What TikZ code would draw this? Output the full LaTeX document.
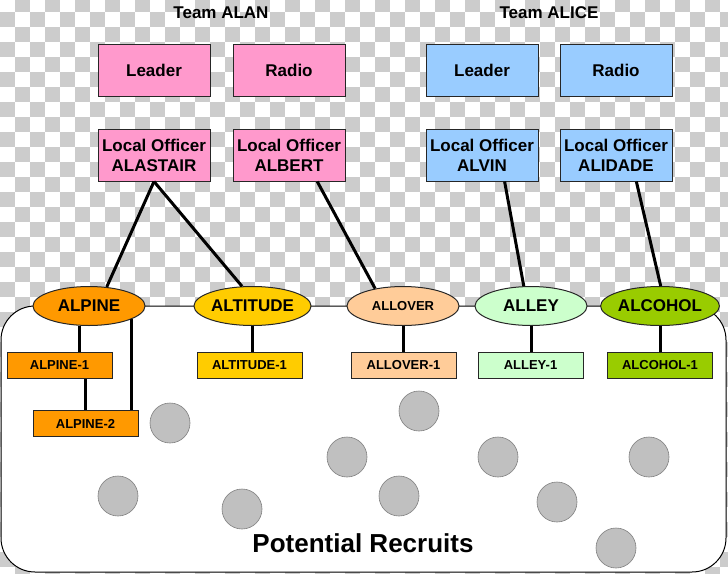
\documentclass[tikz,border=0pt]{standalone}
\usepackage{fontspec}
\setmainfont{Liberation Sans}
\usepackage{tikz}
\usetikzlibrary{calc, math, shapes.geometric}

\definecolor{checkgray}{RGB}{204,204,204}
\definecolor{recruitgray}{RGB}{192,192,192}
\definecolor{alanpink}{RGB}{255,153,204}
\definecolor{aliceblue}{RGB}{153,204,255}
\definecolor{alpineorange}{RGB}{255,153,0}
\definecolor{altitudegold}{RGB}{255,204,0}
\definecolor{alloverpeach}{RGB}{255,204,153}
\definecolor{alleymint}{RGB}{204,255,204}
\definecolor{alcoholgreen}{RGB}{153,204,0}

\begin{document}
\begin{tikzpicture}[x=1pt, y=-1pt, line width=1pt,
    topbox/.style={draw=black!85, minimum width=112pt, minimum height=52pt, inner sep=0pt, align=center, font=\fontsize{17}{20}\selectfont\bfseries},
    tribe/.style={ellipse, draw=black!85, minimum width=112pt, minimum height=39pt, inner sep=0pt, font=\fontsize{17}{20}\selectfont\bfseries},
    cell/.style={draw=black!85, minimum width=105pt, minimum height=26pt, inner sep=0pt, font=\fontsize{13}{15}\selectfont\bfseries},
    recruit/.style={circle, draw=gray, fill=recruitgray, line width=0.6pt, minimum size=40pt, inner sep=0pt},
    link/.style={line width=3pt},
]
    \tikzmath{%
        \rowtop=70;
        \rowoff=155;
        \rowcell=306;
        \rowsub=365;
    }
    \useasboundingbox (0, 0) rectangle (728, 573);
    % checker background
    \begin{scope}
        \clip (0, 0) rectangle (728, 573);
        \foreach \j in {0, ..., 38} {
            \pgfmathtruncatemacro{\sh}{mod(\j, 2)}
            \foreach \i in {1, 3, ..., 49}
                \fill [checkgray] ({(\i-\sh)*15}, {\j*15-3}) rectangle ++(15, 15);
        }
    \end{scope}
    % pool of recruits
    \draw [fill=white, rounded corners=34pt] (1, \rowcell) rectangle (726, 572);
    \foreach \x/\y [count=\k] in {170/423, 419/411, 347/457, 498/457, 649/457, 118/496, 242/509, 399/496, 557/502, 616/548}
        \node [recruit] (r\k) at (\x, \y) {};
    \node [font=\fontsize{26}{30}\selectfont\bfseries] (pool) at (363, 543) {Potential Recruits};

    % team headers
    \node [font=\fontsize{17}{20}\selectfont\bfseries] (alan) at (221, 13) {Team ALAN};
    \node [font=\fontsize{17}{20}\selectfont\bfseries] (alice) at (549, 13) {Team ALICE};
    \node [topbox, fill=alanpink] (leaderA) at (154, \rowtop) {Leader};
    \node [topbox, fill=alanpink] (radioA) at (289, \rowtop) {Radio};
    \node [topbox, fill=aliceblue] (leaderB) at (482, \rowtop) {Leader};
    \node [topbox, fill=aliceblue] (radioB) at (616, \rowtop) {Radio};
    % local officers
    \node [topbox, fill=alanpink] (alastair) at (154, \rowoff) {Local Officer\\ALASTAIR};
    \node [topbox, fill=alanpink] (albert) at (289, \rowoff) {Local Officer\\ALBERT};
    \node [topbox, fill=aliceblue] (alvin) at (482, \rowoff) {Local Officer\\ALVIN};
    \node [topbox, fill=aliceblue] (alidade) at (616, \rowoff) {Local Officer\\ALIDADE};

    % cells
    \node [tribe, fill=alpineorange] (alpine) at (89, \rowcell) {ALPINE};
    \node [tribe, fill=altitudegold] (altitude) at (252.5, \rowcell) {ALTITUDE};
    \node [tribe, fill=alloverpeach, font=\fontsize{13}{15}\selectfont\bfseries] (allover) at (403, \rowcell) {ALLOVER};
    \node [tribe, fill=alleymint] (alley) at (531, \rowcell) {ALLEY};
    \node [tribe, fill=alcoholgreen] (alcohol) at (660, \rowcell) {ALCOHOL};
    \node [cell, fill=alpineorange] (alpine1) at (59.5, \rowsub) {ALPINE-1};
    \node [cell, fill=alpineorange] (alpine2) at (85.5, 423.5) {ALPINE-2};
    \node [cell, fill=altitudegold] (altitude1) at (249.5, \rowsub) {ALTITUDE-1};
    \node [cell, fill=alloverpeach] (allover1) at (403.5, \rowsub) {ALLOVER-1};
    \node [cell, fill=alleymint] (alley1) at (530.5, \rowsub) {ALLEY-1};
    \node [cell, fill=alcoholgreen] (alcohol1) at (660, \rowsub) {ALCOHOL-1};

    % officer links
    \draw [link] (alastair.south) -- (alpine.47);
    \draw [link] (alastair.south) -- (altitude.118);
    \draw [link] ($(albert.south)!0.5!(albert.south east)$) -- (allover.148);
    \draw [link] ($(alvin.south)!0.4!(alvin.south east)$) -- (alley.110);
    \draw [link] ($(alidade.south)!0.36!(alidade.south east)$) -- (alcohol.88);
    % member links
    \draw [link] (alpine.-115) -- (alpine.-115 |- alpine1.north);
    \draw [link] (alpine2.north |- alpine1.south) -- (alpine2.north);
    \draw [link] (alpine.-17) -- (alpine.-17 |- alpine2.north);
    \draw [link] (altitude.south) -- (altitude.south |- altitude1.north);
    \draw [link] (allover.south) -- (allover.south |- allover1.north);
    \draw [link] (alley.south) -- (alley.south |- alley1.north);
    \draw [link] (alcohol.south) -- (alcohol.south |- alcohol1.north);
\end{tikzpicture}
\end{document}
